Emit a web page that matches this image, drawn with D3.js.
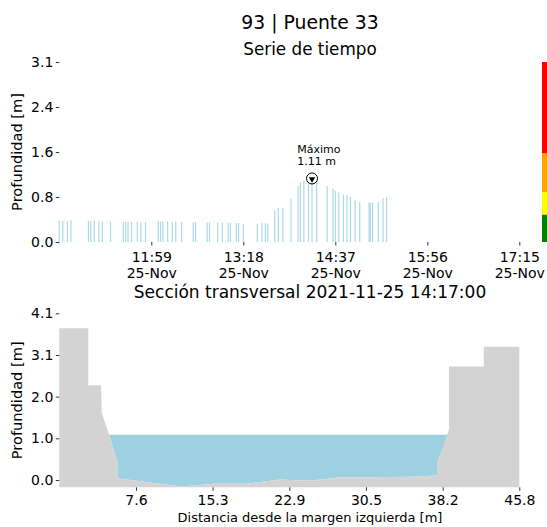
<!DOCTYPE html>
<html>
<head>
<meta charset="utf-8">
<script src="https://cdn.jsdelivr.net/npm/d3@7"></script>
<style>
body { margin: 0; background: #fff; }
text { font-family: "DejaVu Sans", sans-serif; fill: #000; }
</style>
</head>
<body>
<svg id="chart" width="547" height="527"></svg>
<script>
'use strict';

/* global d3 */

// serie de tiempo (25-Nov-2021)
var serieTimes = [
    "10:40", "10:43", "10:47", "10:50", "11:05", "11:07", "11:10", "11:14", "11:17", "11:24",
    "11:35", "11:37", "11:39", "11:42", "11:47", "11:50", "11:54", "12:05", "12:07", "12:09",
    "12:13", "12:17", "12:20", "12:25", "12:35", "12:37", "12:47", "12:49", "12:56", "13:00",
    "13:05", "13:07", "13:12", "13:14", "13:18", "13:30", "13:34", "13:37", "13:39", "13:45",
    "13:48", "13:52", "13:59", "14:05", "14:07", "14:10", "14:14", "14:17", "14:21", "14:30",
    "14:35", "14:37", "14:40", "14:44", "14:47", "14:50", "14:54", "14:58", "15:06", "15:07",
    "15:09", "15:14", "15:18", "15:21"
];
var serieDepths = [
    0.37, 0.37, 0.36, 0.38, 0.37, 0.37, 0.37, 0.36, 0.36, 0.36,
    0.35, 0.36, 0.35, 0.35, 0.36, 0.35, 0.35, 0.37, 0.36, 0.36,
    0.36, 0.35, 0.36, 0.35, 0.35, 0.35, 0.34, 0.34, 0.34, 0.34,
    0.33, 0.34, 0.33, 0.33, 0.32, 0.32, 0.33, 0.33, 0.32, 0.55,
    0.60, 0.60, 0.76, 0.98, 1.04, 1.07, 1.06, 1.11, 1.04, 0.98,
    0.93, 0.89, 0.87, 0.83, 0.82, 0.79, 0.73, 0.70, 0.69, 0.69,
    0.69, 0.70, 0.77, 0.79
];
var timeStart = "10:40";
var timeEnd = "17:15";
var timeTicks = ["11:59", "13:18", "14:37", "15:56", "17:15"];
var depthTicks = [0, 0.786, 1.572, 2.358, 3.144];
var alertLevels = [0, 0.48, 0.87, 1.55, 3.144];
var alertColors = ["#008000", "#ffff00", "#ffa500", "#ff0000"];
var maxTime = "14:17";
var maxDepth = 1.11;

// seccion transversal
var profileX = [0, 2.89, 2.89, 4.15, 4.22, 4.95, 5.78, 5.78, 12.19, 15.33, 18.66, 21.97,
    24.96, 27.95, 30.94, 34.9, 37.68, 37.68, 38.8, 38.8, 42.26, 42.26, 45.8];
var profileY = [3.73, 3.73, 2.33, 2.33, 1.66, 1.12, 0.45, 0.04, -0.16, -0.09, -0.09, 0.01,
    -0.02, 0.07, 0.07, 0.08, 0.11, 0.47, 1.25, 2.79, 2.79, 3.28, 3.28];
var sectionBase = -0.18;
var waterLevel = 1.11;
var distTicks = [7.633, 15.267, 22.9, 30.533, 38.167, 45.8];
var sectionTicks = [0, 1.025, 2.05, 3.075, 4.1];

var left = 59.3, right = 519.3, titleX = 310;
var svg = d3.select("#chart");
var parseT = d3.timeParse("%Y-%m-%d %H:%M");
function toDate(s) { return parseT("2021-11-25 " + s); }

function styleAxis(g) {
    g.attr("font-family", null).attr("font-size", null);
    g.select(".domain").remove();
    g.selectAll(".tick line").attr("stroke", "#000").attr("stroke-width", 0.8);
    g.selectAll(".tick text").style("font-size", "14px");
}

function addText(x, y, txt, size, anchor, rotate) {
    var t = svg.append("text")
        .attr("x", x)
        .attr("y", y)
        .style("font-size", size + "px")
        .attr("text-anchor", anchor || "middle")
        .text(txt);
    if (rotate) {
        t.attr("transform", "rotate(-90," + x + "," + y + ")");
    }
    return t;
}

// ---------- serie de tiempo ----------
var xTime = d3.scaleTime()
    .domain([toDate(timeStart), toDate(timeEnd)])
    .range([left, right]);
var yTop = d3.scaleLinear().domain([0, 3.144]).range([242, 62]);

var serie = serieTimes.map(function(t, i) {
    return { t: toDate(t), v: serieDepths[i] };
});

svg.append("g").selectAll("line")
    .data(serie)
    .enter()
    .append("line")
    .attr("x1", function(d) { return xTime(d.t); })
    .attr("x2", function(d) { return xTime(d.t); })
    .attr("y1", yTop(0))
    .attr("y2", function(d) { return yTop(d.v); })
    .attr("stroke", "#add8e6")
    .attr("stroke-width", 1.2);

// barra de alertas
var alerts = alertColors.map(function(c, i) {
    return { c: c, lo: alertLevels[i], hi: alertLevels[i + 1] };
});
svg.append("g").selectAll("rect")
    .data(alerts)
    .enter()
    .append("rect")
    .attr("x", 542)
    .attr("width", 10)
    .attr("y", function(d) { return yTop(d.hi); })
    .attr("height", function(d) { return yTop(d.lo) - yTop(d.hi); })
    .attr("fill", function(d) { return d.c; });

var fmtHour = d3.timeFormat("%H:%M");
var fmtDay = d3.timeFormat("%d-%b");
var gx = svg.append("g")
    .attr("transform", "translate(0," + yTop(0) + ")")
    .call(d3.axisBottom(xTime)
        .tickValues(timeTicks.map(toDate))
        .tickSize(3.5));
styleAxis(gx);
gx.selectAll(".tick text").each(function(d) {
    var t = d3.select(this).text(null).attr("y", null).attr("dy", null);
    t.append("tspan").attr("x", 0).attr("y", 20).text(fmtHour(d));
    t.append("tspan").attr("x", 0).attr("y", 36).text(fmtDay(d));
});

var gy = svg.append("g")
    .attr("transform", "translate(" + left + ",0)")
    .call(d3.axisLeft(yTop)
        .tickValues(depthTicks)
        .tickFormat(function(d) { return d.toFixed(1); })
        .tickSize(3.5)
        .tickPadding(2.5));
styleAxis(gy);

// maximo
var mx = xTime(toDate(maxTime)), my = yTop(maxDepth);
svg.append("circle")
    .attr("cx", mx).attr("cy", my).attr("r", 5.5)
    .attr("fill", "#fff").attr("stroke", "#000").attr("stroke-width", 1);
svg.append("path")
    .attr("d", d3.symbol(d3.symbolTriangle, 18)())
    .attr("transform", "translate(" + mx + "," + (my + 0.6) + ") rotate(180)")
    .attr("fill", "#000");
addText(mx - 14.8, 152.5, "Máximo", 11, "start");
addText(mx - 14.8, 165, maxDepth.toFixed(2) + " m", 11, "start");

addText(titleX, 29, "93 | Puente 33", 18.8);
addText(titleX, 55, "Serie de tiempo", 16.8);
addText(17, (yTop(0) + yTop(3.144)) / 2, "Profundidad [m]", 14.6, "middle", true)
    .attr("dy", "0.35em");

// ---------- seccion transversal ----------
var xDist = d3.scaleLinear().domain([0, 45.8]).range([left, right]);
var yDep = d3.scaleLinear().domain([sectionBase, 4.1]).range([487.3, 313.3]);

var profile = profileX.map(function(x, i) { return { x: x, y: profileY[i] }; });

var water = d3.area()
    .x(function(d) { return xDist(d.x); })
    .y0(function(d) { return yDep(Math.min(d.y, waterLevel)); })
    .y1(yDep(waterLevel));
svg.append("path")
    .datum(profile)
    .attr("d", water)
    .attr("fill", "#9dd0e0");

var terrain = d3.area()
    .x(function(d) { return xDist(d.x); })
    .y0(yDep(sectionBase))
    .y1(function(d) { return yDep(d.y); });
svg.append("path")
    .datum(profile)
    .attr("d", terrain)
    .attr("fill", "#d3d3d3");

var gx2 = svg.append("g")
    .attr("transform", "translate(0," + yDep(sectionBase) + ")")
    .call(d3.axisBottom(xDist)
        .tickValues(distTicks)
        .tickFormat(function(d) { return d.toFixed(1); })
        .tickSize(3.5));
styleAxis(gx2);
gx2.selectAll(".tick text").attr("y", 17.7).attr("dy", null);

var gy2 = svg.append("g")
    .attr("transform", "translate(" + left + ",0)")
    .call(d3.axisLeft(yDep)
        .tickValues(sectionTicks)
        .tickFormat(function(d) { return d.toFixed(1); })
        .tickSize(3.5)
        .tickPadding(2.5));
styleAxis(gy2);

addText(titleX, 298, "Sección transversal 2021-11-25 14:17:00", 17);
addText(17, (yDep(sectionBase) + yDep(4.1)) / 2, "Profundidad [m]", 14.6, "middle", true)
    .attr("dy", "0.35em");
addText(titleX, 522, "Distancia desde la margen izquierda [m]", 13);
</script>
</body>
</html>
